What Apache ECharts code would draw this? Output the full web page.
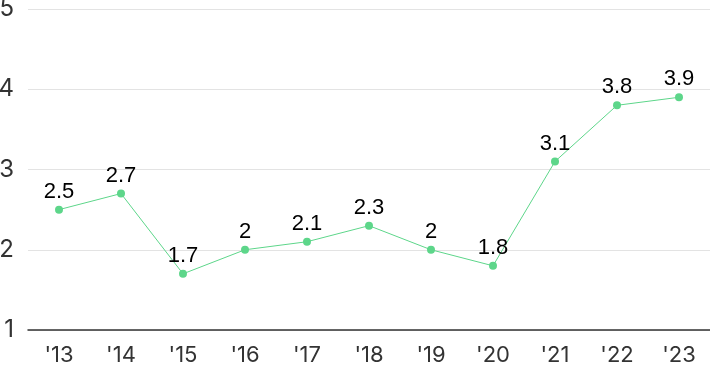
<!DOCTYPE html>
<html><head><meta charset="utf-8">
<script src="https://cdn.jsdelivr.net/npm/echarts@6/dist/echarts.min.js"></script>
<style>html,body{margin:0;padding:0;background:#fff}#c{width:710px;height:371px}</style>
</head><body><div id="c"></div>
<script>
var categories = ["'13","'14","'15","'16","'17","'18","'19","'20","'21","'22","'23"];
var values = [2.5, 2.7, 1.7, 2, 2.1, 2.3, 2, 1.8, 3.1, 3.8, 3.9];
var yTicks = [1, 2, 3, 4, 5];

var chart = echarts.init(document.getElementById('c'));
chart.setOption({
  animation: false,
  grid: {left: 28, right: 0, top: 9, bottom: 41, containLabel: false, outerBoundsMode: 'none'},
  xAxis: {
    type: 'category', data: categories, boundaryGap: true,
    axisLine: {show: true, lineStyle: {color: '#333', width: 1.5}},
    axisTick: {show: false},
    axisLabel: {color: '#333', fontSize: 22, fontFamily: 'Inter', margin: 14}
  },
  yAxis: {
    type: 'value', min: yTicks[0], max: yTicks[yTicks.length-1], interval: 1,
    axisLine: {show: false}, axisTick: {show: false},
    splitLine: {lineStyle: {color: '#e3e3e3', width: 1}},
    axisLabel: {color: '#333', fontSize: 24, fontFamily: 'Inter', margin: 14}
  },
  series: [{
    type: 'line', data: values, symbol: 'circle', symbolSize: 8,
    itemStyle: {color: '#5dd68a'},
    lineStyle: {color: '#5dd68a', width: 1},
    label: {show: true, position: 'top', distance: 3, color: '#000', fontSize: 22, fontFamily: 'Liberation Sans'}
  }]
});
</script></body></html>
